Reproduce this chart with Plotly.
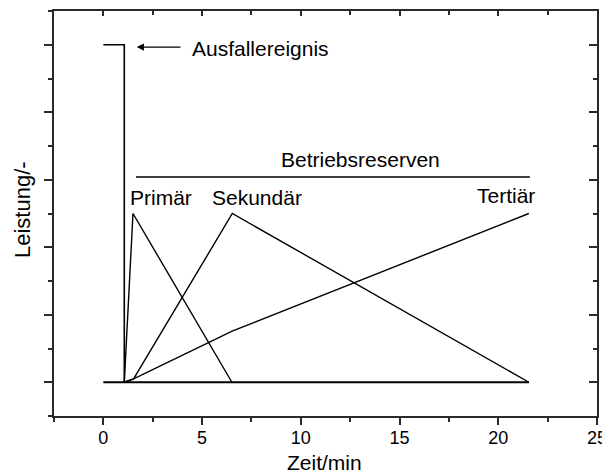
import plotly.graph_objects as go

# ---- data ----
ausfall_x = [0, 1.06, 1.06]
ausfall_y = [5.0, 5.0, 0.0]

baseline_x = [0, 21.55]
baseline_y = [0, 0]

primaer_x = [1.06, 1.50, 6.51]
primaer_y = [0.0, 2.50, 0.0]

sekundaer_x = [1.06, 1.53, 6.53, 21.55]
sekundaer_y = [0.0, 0.05, 2.50, 0.0]

tertiaer_x = [1.06, 1.53, 6.55, 21.55]
tertiaer_y = [0.0, 0.05, 0.76, 2.50]

reserve_x = [1.65, 21.6]
reserve_y = [3.04, 3.04]

x_tickvals = [0, 5, 10, 15, 20, 25]
x_ticktext = ["0", "5", "10", "15", "20", "25"]

labels = ["Primär", "Sekundär", "Tertiär"]
label_x = [2.93, 7.77, 20.4]
label_y = [2.73, 2.73, 2.76]

FONT = "Liberation Sans, Arial, Helvetica, sans-serif"
AX = "#2a2a2a"
FS = 21

fig = go.Figure()

def add_line(x, y, w=1.4):
    fig.add_trace(go.Scatter(x=x, y=y, mode="lines",
                             line=dict(color="black", width=w),
                             showlegend=False, hoverinfo="skip"))

add_line(baseline_x, baseline_y, 1.8)
add_line(ausfall_x, ausfall_y, 1.6)
add_line(primaer_x, primaer_y)
add_line(sekundaer_x, sekundaer_y)
add_line(tertiaer_x, tertiaer_y)
add_line(reserve_x, reserve_y)

# dummy trace to create mirrored axes (top/right) with inside ticks
fig.add_trace(go.Scatter(x=[None], y=[None], xaxis="x2", yaxis="y2",
                         showlegend=False, hoverinfo="skip"))

for t, xx, yy in zip(labels, label_x, label_y):
    fig.add_annotation(x=xx, y=yy, text=t, showarrow=False,
                       font=dict(family=FONT, size=FS, color="black"),
                       xanchor="center", yanchor="middle")

fig.add_annotation(x=13.04, y=3.30, text="Betriebsreserven", showarrow=False,
                   font=dict(family=FONT, size=FS, color="black"),
                   xanchor="center", yanchor="middle")

fig.add_annotation(x=4.4, y=4.94, text="Ausfallereignis", showarrow=False,
                   font=dict(family=FONT, size=FS, color="black"),
                   xanchor="left", yanchor="middle")

# arrow
fig.add_annotation(x=1.69, y=4.965, ax=3.98, ay=4.965, xref="x", yref="y",
                   axref="x", ayref="y", text="", showarrow=True,
                   arrowhead=2, arrowsize=1.2, arrowwidth=1.2, arrowcolor="black")

# axis titles
fig.add_annotation(xref="paper", yref="paper", x=0.499, y=-0.1136,
                   text="Zeit/min", showarrow=False,
                   font=dict(family=FONT, size=FS, color="black"),
                   xanchor="center", yanchor="middle")
fig.add_annotation(xref="paper", yref="paper", x=-0.059, y=0.511,
                   text="Leistung/-", showarrow=False, textangle=-90,
                   font=dict(family=FONT, size=22, color="black"),
                   xanchor="center", yanchor="middle")

# page body keeps its 8px margin: size/margins compensate for it
fig.update_layout(
    width=602, height=467,
    margin=dict(l=46, r=13, t=3, b=59),
    paper_bgcolor="white", plot_bgcolor="white",
    showlegend=False,
    xaxis=dict(range=[-2.5, 25], tickvals=x_tickvals, ticktext=x_ticktext,
               ticks="outside", ticklen=7, tickwidth=1.5, tickcolor=AX,
               ticklabelstandoff=-3,
               minor=dict(dtick=2.5, tick0=0, ticks="outside", ticklen=4,
                          tickwidth=1.5, tickcolor=AX, showgrid=False),
               showline=True, linecolor=AX, linewidth=2, showgrid=False,
               zeroline=False,
               tickfont=dict(family=FONT, size=18, color="black")),
    yaxis=dict(range=[-0.5, 5.5], dtick=1, tick0=0, showticklabels=False,
               ticks="outside", ticklen=8, tickwidth=1.5, tickcolor=AX,
               minor=dict(dtick=0.5, tick0=0, ticks="outside", ticklen=4,
                          tickwidth=1.5, tickcolor=AX, showgrid=False),
               showline=True, linecolor=AX, linewidth=2, showgrid=False,
               zeroline=False),
    xaxis2=dict(range=[-2.5, 25], overlaying="x", side="top", dtick=5, tick0=0,
                showticklabels=False, ticks="inside", ticklen=5, tickwidth=1.5,
                tickcolor=AX,
                minor=dict(dtick=2.5, tick0=0, ticks="inside", ticklen=4,
                           tickwidth=1.5, tickcolor=AX, showgrid=False),
                showline=True, linecolor=AX, linewidth=2, showgrid=False,
                zeroline=False),
    yaxis2=dict(range=[-0.5, 5.5], overlaying="y", side="right", dtick=1, tick0=0,
                showticklabels=False, ticks="inside", ticklen=8, tickwidth=1.5,
                tickcolor=AX,
                minor=dict(dtick=0.5, tick0=0, ticks="inside", ticklen=4,
                           tickwidth=1.5, tickcolor=AX, showgrid=False),
                showline=True, linecolor=AX, linewidth=2, showgrid=False,
                zeroline=False),
)

fig.write_html("out.html", config={"displayModeBar": False})

# avoid scrollbars (which would narrow the viewport)
with open("out.html", "r", encoding="utf-8") as f:
    html = f.read()
html = html.replace("<body>", "<body style=\"overflow:hidden\">", 1)
with open("out.html", "w", encoding="utf-8") as f:
    f.write(html)
